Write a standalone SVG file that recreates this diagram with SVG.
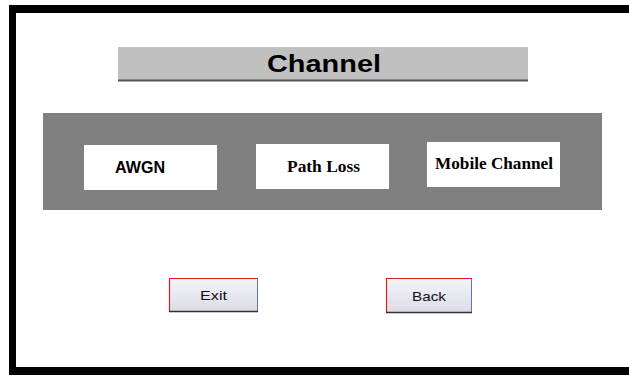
<svg xmlns="http://www.w3.org/2000/svg" width="629" height="376" viewBox="0 0 629 376">
<defs>
<linearGradient id="btn" x1="0" y1="0" x2="0" y2="1">
<stop offset="0" stop-color="#f4f4fa"/>
<stop offset="1" stop-color="#dcdce8"/>
</linearGradient>
</defs>
<style>
.frame{fill:#000}
.box{fill:#fff}
.sans{font-family:"Liberation Sans",Arial,sans-serif;font-weight:bold;fill:#000}
.serif{font-family:"Liberation Serif","Times New Roman",serif;font-weight:bold;fill:#000}
.btxt{font-family:"Liberation Sans",Arial,sans-serif;font-size:13px;fill:#111}
</style>
<rect width="629" height="376" fill="#fff"/>
<g id="frame">
<rect class="frame" x="9" y="5" width="620" height="8"/>
<rect class="frame" x="9" y="5" width="7" height="370"/>
<rect class="frame" x="9" y="367" width="620" height="8"/>
</g>
<g id="title">
<rect x="118" y="47" width="410" height="34" fill="#c0c0c0"/>
<rect x="118" y="79.5" width="410" height="2" fill="#555"/>
<text class="sans" x="267" y="72" font-size="24" textLength="114" lengthAdjust="spacingAndGlyphs">Channel</text>
</g>
<g id="panel">
<rect x="43" y="113" width="559" height="97" fill="#808080"/>
</g>
<g id="awgn">
<rect class="box" x="84" y="145" width="133" height="45"/>
<text class="sans" x="115" y="173" font-size="16" textLength="50" lengthAdjust="spacingAndGlyphs">AWGN</text>
</g>
<g id="pathloss">
<rect class="box" x="256" y="144" width="133" height="45"/>
<text class="serif" x="287" y="172" font-size="17" textLength="73" lengthAdjust="spacingAndGlyphs">Path Loss</text>
</g>
<g id="mobile">
<rect class="box" x="427" y="142" width="133" height="45"/>
<text class="serif" x="435" y="169" font-size="17" textLength="118" lengthAdjust="spacingAndGlyphs">Mobile Channel</text>
</g>
<g id="exit">
<rect x="169" y="278" width="89" height="34" fill="url(#btn)"/>
<path d="M169.5 312 V278.5 H258" fill="none" stroke="#e02020" stroke-width="1.2"/>
<path d="M257.5 279 V311" fill="none" stroke="#5a7aa8" stroke-width="1"/>
<path d="M169 311.5 H258" fill="none" stroke="#333" stroke-width="1.5"/>
<text class="btxt" x="200" y="300" textLength="27" lengthAdjust="spacingAndGlyphs">Exit</text>
</g>
<g id="back">
<rect x="386" y="278" width="86" height="35" fill="url(#btn)"/>
<path d="M386.5 313 V278.5 H472" fill="none" stroke="#e02020" stroke-width="1.2"/>
<path d="M471.5 279 V312" fill="none" stroke="#5a7aa8" stroke-width="1"/>
<path d="M386 312.5 H472" fill="none" stroke="#333" stroke-width="1.5"/>
<text class="btxt" x="412" y="301" textLength="34" lengthAdjust="spacingAndGlyphs">Back</text>
</g>
<g id="connectors"/>
</svg>
